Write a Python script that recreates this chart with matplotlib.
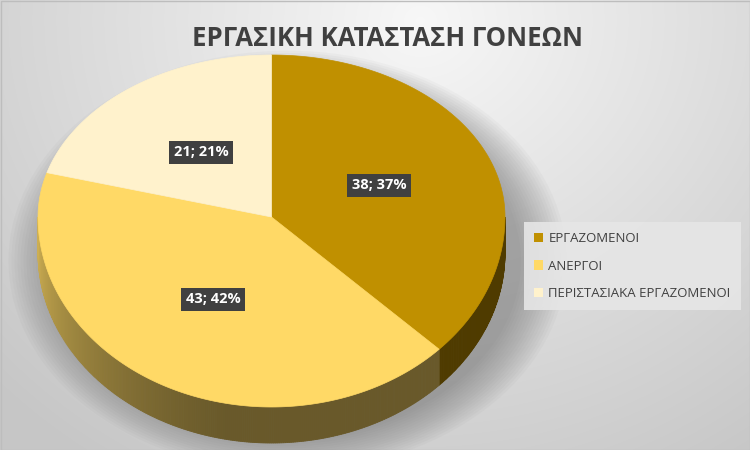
import numpy as np
import matplotlib
matplotlib.use("Agg")
import matplotlib.pyplot as plt
from matplotlib.patches import Polygon, Patch, Ellipse

# data
categories = ["ΕΡΓΑΖΟΜΕΝΟΙ", "ΑΝΕΡΓΟΙ", "ΠΕΡΙΣΤΑΣΙΑΚΑ ΕΡΓΑΖΟΜΕΝΟΙ"]
values = [38, 43, 21]
percents = [37, 42, 21]
colors = ["#c09000", "#ffd966", "#fff2cc"]
title = "ΕΡΓΑΣΙΚΗ ΚΑΤΑΣΤΑΣΗ ΓΟΝΕΩΝ"

plt.rcParams['font.family'] = ['Open Sans', 'DejaVu Sans']

fig = plt.figure(figsize=(7.5, 4.5), dpi=100)
ax = fig.add_axes([0, 0, 1, 1])
ax.set_xlim(0, 750)
ax.set_ylim(450, 0)
ax.axis("off")

# background - radial gradient
yy, xx = np.mgrid[0:450, 0:750]
d = np.sqrt(((xx - 420) / 520.0) ** 2 + ((yy - 20) / 470.0) ** 2)
g = np.clip(0.97 - 0.17 * d, 0.78, 0.97)
bg = np.dstack([g, g, g])
ax.imshow(bg, extent=(0, 750, 450, 0), zorder=0, aspect="auto")
ax.add_patch(plt.Rectangle((0.5, 0.5), 749, 449, fill=False, ec="#bdbdbd", lw=1, zorder=1))

# pie geometry (pixel coords, y down)
cx, cy = 271.5, 217
a = 233.5
b_top, b_bot = 162, 190
depth = 36


def edge(theta):
    # theta in degrees clockwise from 12 o'clock
    t = np.radians(theta)
    b = np.where(np.cos(t) > 0, b_top, b_bot)
    return cx + a * np.sin(t), cy - b * np.cos(t)


# shadow
for i in range(16):
    s = 1 + i * 0.013
    ax.add_patch(Ellipse((cx + 16, cy + 44), 2 * a * s, (b_top + b_bot) * s,
                         fc="#6e6e6e", ec="none", alpha=0.045, zorder=2))

total = float(sum(values))
bounds = np.concatenate([[0], np.cumsum(values)]) / total * 360


def shade(theta):
    f = np.clip((theta - 190) / 80.0, 0, 1)
    return 0.41 + 0.40 * f ** 1.3


# side of the pie (visible lower half)
for k in range(len(values)):
    lo = max(bounds[k], 90)
    hi = min(bounds[k + 1], 270)
    if hi <= lo:
        continue
    th = np.linspace(lo, hi, int((hi - lo) * 2) + 2)
    base = np.array(matplotlib.colors.to_rgb(colors[k]))
    for t0, t1 in zip(th[:-1], th[1:]):
        x0, y0 = edge(t0)
        x1, y1 = edge(t1)
        c = np.clip(base * shade((t0 + t1) / 2), 0, 1)
        ax.add_patch(Polygon([(x0, y0), (x1, y1), (x1, y1 + depth), (x0, y0 + depth)],
                             closed=True, fc=c, ec=c, lw=0.6, zorder=3))

# top face
for k in range(len(values)):
    th = np.linspace(bounds[k], bounds[k + 1], 200)
    xs, ys = edge(th)
    pts = [(cx, cy)] + list(zip(xs, ys))
    ax.add_patch(Polygon(pts, closed=True, fc=colors[k], ec=colors[k], lw=0.5, zorder=4))

# data labels
for k in range(len(values)):
    mid = (bounds[k] + bounds[k + 1]) / 2
    t = np.radians(mid)
    b = b_top if np.cos(t) > 0 else b_bot
    lx = cx + 0.5 * a * np.sin(t)
    ly = cy - 0.5 * b * np.cos(t)
    ax.text(lx, ly, f"{values[k]}; {percents[k]}%", ha="center", va="center",
            fontsize=10.5, fontweight="bold", color="white", zorder=6,
            bbox=dict(boxstyle="square,pad=0.3", fc="#404040", ec="none"))

ax.text(388, 38, title, ha="center", va="center", fontsize=18.5, fontweight="bold",
        color="#404040", zorder=6)

handles = [Patch(fc=c, ec="none") for c in colors]
leg = fig.legend(handles, categories, loc="center left", bbox_to_anchor=(524 / 750, 1 - 266 / 450),
                 frameon=True, fancybox=False, fontsize=9.5, labelspacing=1.1,
                 handlelength=0.7, handleheight=0.7, handletextpad=0.4, borderpad=0.75,
                 borderaxespad=0)
leg.get_frame().set_facecolor("#e6e6e6")
leg.get_frame().set_edgecolor("none")
leg.get_frame().set_alpha(0.9)
for txt in leg.get_texts():
    txt.set_color("#404040")

fig.savefig("out.png", dpi=100)
